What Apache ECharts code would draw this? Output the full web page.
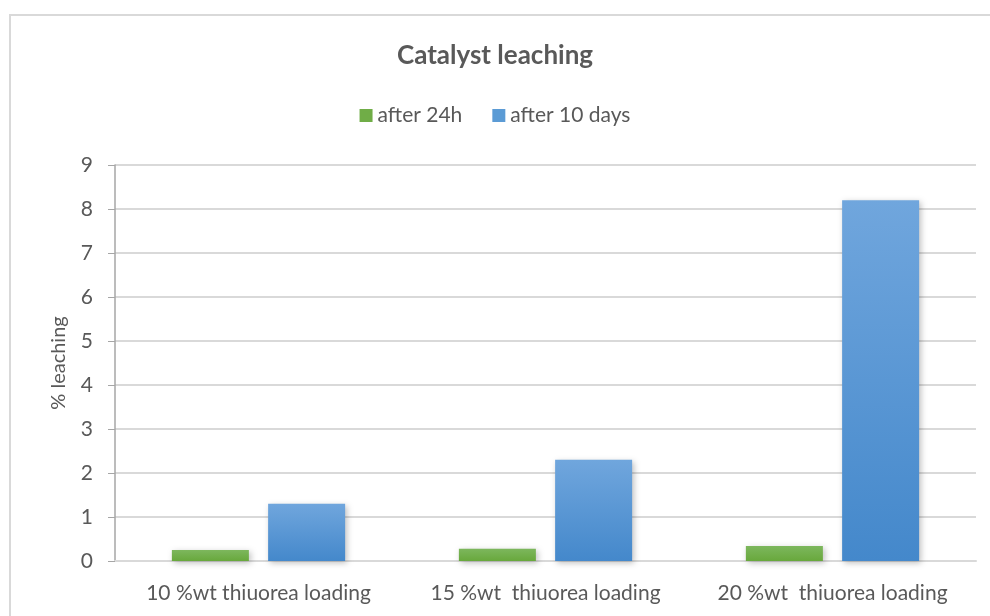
<!DOCTYPE html>
<html>
<head>
<meta charset="utf-8">
<script src="https://cdn.jsdelivr.net/npm/echarts@6/dist/echarts.min.js"></script>
<style>
  html, body { margin: 0; padding: 0; background: #fff; }
  #chart { width: 990px; height: 616px; }
</style>
</head>
<body>
<div id="chart"></div>
<script>
var categories = ['10 %wt thiuorea loading', '15 %wt  thiuorea loading', '20 %wt  thiuorea loading'];
var after24h = [0.25, 0.28, 0.34];
var after10days = [1.3, 2.3, 8.2];
var yTicks = [0, 1, 2, 3, 4, 5, 6, 7, 8, 9];

var font = 'Lato, "Open Sans", sans-serif';
var grey = '#595959';

function grad(top, bottom) {
    return new echarts.graphic.LinearGradient(0, 0, 0, 1, [
        { offset: 0, color: top },
        { offset: 1, color: bottom }
    ]);
}

var myChart = echarts.init(document.getElementById('chart'));
var opt = {
    animation: false,
    graphic: [{
        type: 'rect',
        shape: { x: 10, y: 15, width: 1000, height: 700 },
        style: { fill: 'none', stroke: '#d9d9d9', lineWidth: 2 },
        silent: true
    }],
    title: {
        text: 'Catalyst leaching',
        left: 'center',
        top: 38,
        textStyle: { fontFamily: font, fontSize: 26, fontWeight: 'bold', color: grey }
    },
    legend: {
        top: 100,
        left: 'center',
        itemWidth: 13,
        itemHeight: 13,
        itemGap: 30,
        icon: 'rect',
        textStyle: { fontFamily: font, fontSize: 21, color: grey },
        data: [
            { name: 'after 24h', itemStyle: { color: '#70ad47' } },
            { name: 'after 10 days', itemStyle: { color: '#5b9bd5' } }
        ]
    },
    grid: { left: 115, right: 14, top: 165, bottom: 55 },
    xAxis: {
        type: 'category',
        data: categories,
        axisLine: { lineStyle: { color: '#d9d9d9', width: 2 } },
        axisTick: { show: false },
        axisLabel: { fontFamily: font, fontSize: 21, color: grey, margin: 22, interval: 0, hideOverlap: false }
    },
    yAxis: {
        type: 'value',
        min: yTicks[0],
        max: yTicks[yTicks.length - 1],
        interval: 1,
        name: '% leaching',
        nameLocation: 'middle',
        nameGap: 46,
        nameTextStyle: { fontFamily: font, fontSize: 20, color: grey },
        axisLine: { show: true, lineStyle: { color: '#a6a6a6', width: 1.5 } },
        axisTick: { show: true, length: 7, lineStyle: { color: '#a6a6a6' } },
        axisLabel: { fontFamily: font, fontSize: 21, color: grey, margin: 22 },
        splitLine: { lineStyle: { color: '#d9d9d9', width: 2 } }
    },
    series: [{
        name: 'after 24h',
        type: 'bar',
        data: after24h,
        barWidth: 77,
        barGap: '25%',
        itemStyle: {
            color: grad('#7db75d', '#68a83c'),
            shadowColor: 'rgba(0,0,0,0.25)',
            shadowBlur: 6,
            shadowOffsetX: 2,
            shadowOffsetY: 2
        }
    }, {
        name: 'after 10 days',
        type: 'bar',
        data: after10days,
        barWidth: 77,
        itemStyle: {
            color: grad('#70a6dd', '#4488cb'),
            shadowColor: 'rgba(0,0,0,0.25)',
            shadowBlur: 6,
            shadowOffsetX: 2,
            shadowOffsetY: 2
        }
    }]
};
myChart.setOption(opt);
</script>
</body>
</html>
